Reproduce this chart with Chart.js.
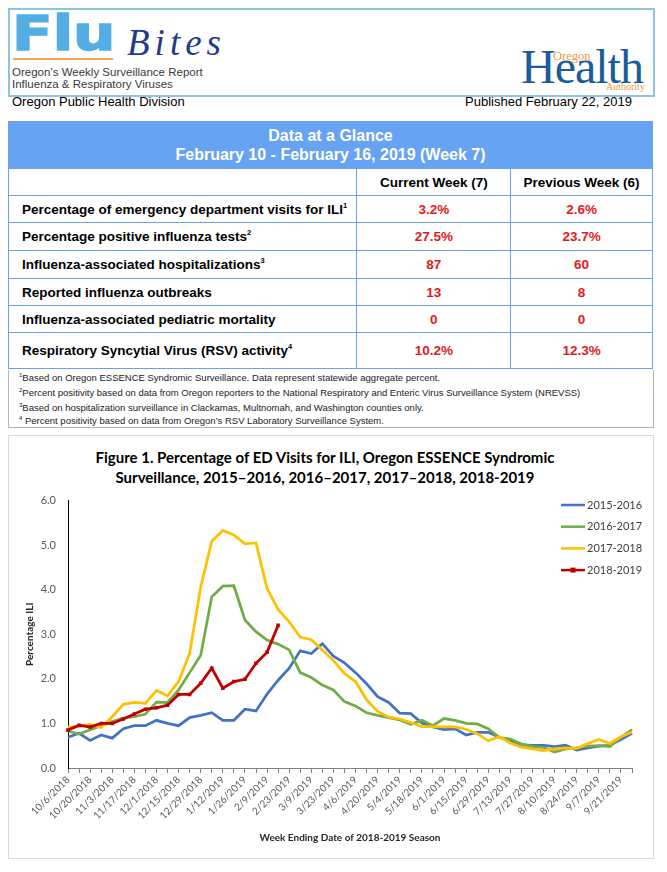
<!DOCTYPE html>
<html>
<head>
<meta charset="utf-8">
<title>Flu Bites - ED visits for ILI</title>
<script src="https://cdn.jsdelivr.net/npm/chart.js@4.4.1/dist/chart.umd.min.js"></script>
<style>
  body { margin:0; background:#fff; width:667px; height:872px; position:relative; overflow:hidden;
         font-family:"Liberation Sans", Arial, sans-serif; color:#000; }
  .abs { position:absolute; white-space:nowrap; }

  /* masthead */
  #masthead { position:absolute; left:8px; top:8px; width:643px; height:85px; border:2px solid #8cc4e2; }
  #flu { left:12px; top:9px; font:bold 48px/48px "DejaVu Sans", sans-serif; color:#55aee3;
         transform:scaleX(1.24); transform-origin:left top; -webkit-text-stroke:1.5px #55aee3; }
  #fluRule { left:13px; top:58px; width:100px; height:1.5px; background:#f3a55a; }
  #bites { left:127px; top:24px; font:italic 37px/37px "Liberation Serif", serif; color:#1f3d8c; letter-spacing:5px; }
  .sub { left:12px; font-size:11.5px; line-height:14px; color:#3a3a3a; }
  #health { left:521px; top:43px; font:48px/48px "Liberation Serif", serif; color:#1d5c9c; letter-spacing:-1px; }
  #ohaTop { left:553px; top:50px; font:12.5px/13px "Liberation Serif", serif; color:#f09a3e; }
  #ohaBottom { left:606px; top:81px; font:10px/11px "Liberation Serif", serif; color:#f09a3e; }
  .byline { top:95px; font-size:13px; line-height:14px; }

  /* data at a glance */
  #glance { position:absolute; left:8px; top:121px; width:645px; border-collapse:collapse;
            font-family:"Liberation Sans", Arial, sans-serif; font-weight:bold; }
  #glance td { border:1.5px solid #6d9ff0; padding:0; font-size:13.5px; }
  #glance td.band { background:#66a3f2; color:#fff; font-size:16px; line-height:19px; height:46px; text-align:center; }
  #glance td.lbl { padding-left:13px; text-align:left; }
  #glance td.head { text-align:center; }
  #glance td.val { color:#e31a1c; text-align:center; }
  #glance sup { font-size:7.5px; vertical-align:6px; line-height:0; }
  #notes { position:absolute; left:8px; top:370px; width:644px; height:57px; border:1px solid #b4b4b4; border-top:none;
           font-size:9.5px; line-height:11px; color:#222; }
  #notes div { position:absolute; left:10px; white-space:nowrap; }
  #notes sup { font-size:6px; vertical-align:4px; line-height:0; }

  /* figure */
  #figBox { position:absolute; left:8px; top:435px; width:644px; height:422px; border:1px solid #d9d9d9; }
  #figTitle { position:absolute; left:8px; top:447px; width:634px; text-align:center;
              font:bold 15px/20px Lato, "Open Sans", sans-serif; color:#000; }
  #chartWrap { position:absolute; left:9px; top:482px; width:640px; height:368px; }
</style>
</head>
<body>

<div id="masthead"></div>
<div class="abs" id="flu">Flu</div>
<div class="abs" id="fluRule"></div>
<div class="abs" id="bites">Bites</div>
<div class="abs sub" style="top:65px">Oregon’s Weekly Surveillance Report</div>
<div class="abs sub" style="top:77px">Influenza &amp; Respiratory Viruses</div>
<div class="abs" id="health">Health</div>
<div class="abs" id="ohaTop">Oregon</div>
<div class="abs" id="ohaBottom">Authority</div>
<div class="abs byline" style="left:12px">Oregon Public Health Division</div>
<div class="abs byline" style="right:35px">Published February 22, 2019</div>

<table id="glance">
  <colgroup><col style="width:349px"><col style="width:154px"><col style="width:142px"></colgroup>
  <tr><td class="band" colspan="3">Data at a Glance<br>February 10 - February 16, 2019 (Week 7)</td></tr>
  <tr style="height:27px"><td></td><td class="head">Current Week (7)</td><td class="head">Previous Week (6)</td></tr>
  <tr style="height:27px"><td class="lbl">Percentage of emergency department visits for ILI<sup>1</sup></td><td class="val">3.2%</td><td class="val">2.6%</td></tr>
  <tr style="height:28px"><td class="lbl">Percentage positive influenza tests<sup>2</sup></td><td class="val">27.5%</td><td class="val">23.7%</td></tr>
  <tr style="height:28px"><td class="lbl">Influenza-associated hospitalizations<sup>3</sup></td><td class="val">87</td><td class="val">60</td></tr>
  <tr style="height:27px"><td class="lbl">Reported influenza outbreaks</td><td class="val">13</td><td class="val">8</td></tr>
  <tr style="height:27px"><td class="lbl">Influenza-associated pediatric mortality</td><td class="val">0</td><td class="val">0</td></tr>
  <tr style="height:36px"><td class="lbl">Respiratory Syncytial Virus (RSV) activity<sup>4</sup></td><td class="val">10.2%</td><td class="val">12.3%</td></tr>
</table>
<div id="notes">
  <div style="top:2px"><sup>1</sup>Based on Oregon ESSENCE Syndromic Surveillance. Data represent statewide aggregate percent.</div>
  <div style="top:17px"><sup>2</sup>Percent positivity based on data from Oregon reporters to the National Respiratory and Enteric Virus Surveillance System (NREVSS)</div>
  <div style="top:32px"><sup>3</sup>Based on hospitalization surveillance in Clackamas, Multnomah, and Washington counties only.</div>
  <div style="top:45px"><sup>4</sup> Percent positivity based on data from Oregon’s RSV Laboratory Surveillance System.</div>
</div>

<div id="figBox"></div>
<div id="figTitle">Figure 1. Percentage of ED Visits for ILI, Oregon ESSENCE Syndromic<br>Surveillance, 2015–2016, 2016–2017, 2017–2018, 2018-2019</div>
<div id="chartWrap"><canvas id="iliChart"></canvas></div>

<script>
// week ending dates of the 2018-2019 season
const weekLabels = [
  "10/6/2018", "10/13/2018", "10/20/2018", "10/27/2018", "11/3/2018", "11/10/2018", "11/17/2018", "11/24/2018",
  "12/1/2018", "12/8/2018", "12/15/2018", "12/22/2018", "12/29/2018", "1/5/2019", "1/12/2019", "1/19/2019",
  "1/26/2019", "2/2/2019", "2/9/2019", "2/16/2019", "2/23/2019", "3/2/2019", "3/9/2019", "3/16/2019",
  "3/23/2019", "3/30/2019", "4/6/2019", "4/13/2019", "4/20/2019", "4/27/2019", "5/4/2019", "5/11/2019",
  "5/18/2019", "5/25/2019", "6/1/2019", "6/8/2019", "6/15/2019", "6/22/2019", "6/29/2019", "7/6/2019",
  "7/13/2019", "7/20/2019", "7/27/2019", "8/3/2019", "8/10/2019", "8/17/2019", "8/24/2019", "8/31/2019",
  "9/7/2019", "9/14/2019", "9/21/2019", "9/28/2019"
];

// percent of ED visits for ILI, per season
const ili2015 = [0.69, 0.78, 0.62, 0.74, 0.67, 0.88, 0.95, 0.95, 1.07, 1.00, 0.95, 1.13, 1.18,
  1.24, 1.07, 1.07, 1.32, 1.28, 1.66, 1.97, 2.24, 2.63, 2.57, 2.79, 2.51, 2.36, 2.14, 1.89, 1.60,
  1.47, 1.23, 1.22, 1.01, 0.92, 0.86, 0.88, 0.74, 0.80, 0.80, 0.69, 0.61, 0.52, 0.51, 0.51, 0.48,
  0.51, 0.40, 0.45, 0.49, 0.51, 0.64, 0.78];
const ili2016 = [0.83, 0.76, 0.86, 0.95, 1.04, 1.12, 1.15, 1.21, 1.48, 1.47, 1.75, 2.14, 2.53,
  3.84, 4.08, 4.09, 3.32, 3.06, 2.87, 2.78, 2.65, 2.14, 2.03, 1.86, 1.75, 1.49, 1.39, 1.24, 1.18,
  1.13, 1.08, 0.98, 1.07, 0.95, 1.11, 1.07, 1.00, 0.99, 0.88, 0.68, 0.65, 0.54, 0.48, 0.46, 0.36,
  0.43, 0.45, 0.49, 0.50, 0.48, 0.69, 0.86];
const ili2017 = [0.92, 0.93, 0.98, 0.91, 1.15, 1.43, 1.47, 1.45, 1.74, 1.62, 1.94, 2.57, 4.06,
  5.09, 5.33, 5.23, 5.03, 5.05, 4.03, 3.56, 3.28, 2.94, 2.88, 2.65, 2.41, 2.12, 1.94, 1.53, 1.27,
  1.14, 1.10, 1.02, 0.93, 0.93, 0.92, 0.92, 0.87, 0.77, 0.61, 0.70, 0.56, 0.47, 0.43, 0.39, 0.43,
  0.45, 0.44, 0.55, 0.64, 0.55, 0.70, 0.81];
const ili2018 = [0.85, 0.96, 0.92, 1.00, 1.00, 1.10, 1.21, 1.32, 1.35, 1.41, 1.65, 1.65, 1.90,
  2.24, 1.79, 1.94, 1.99, 2.35, 2.60, 3.20];

const seasonNames = ["2015-2016", "2016-2017", "2017-2018", "2018-2019"];
const seasonColors = ["#4472C4", "#70AD47", "#FFC000", "#C00000"];

// legend drawn inside the plot, top right, like the Excel original
const sideLegend = {
  id: "sideLegend",
  afterDraw(chart) {
    const ctx = chart.ctx;
    ctx.save();
    ctx.font = "11px Lato";
    ctx.textBaseline = "middle";
    chart.data.datasets.forEach((ds, i) => {
      const y = 23 + i * 21.7;
      ctx.strokeStyle = ds.borderColor;
      ctx.lineWidth = 2.5;
      ctx.beginPath();
      ctx.moveTo(552, y);
      ctx.lineTo(576, y);
      ctx.stroke();
      if (ds.pointRadius > 0) {
        ctx.fillStyle = ds.borderColor;
        ctx.fillRect(561.5, y - 2.5, 5, 5);
      }
      ctx.fillStyle = "#404040";
      ctx.fillText(ds.label, 578, y);
    });
    ctx.restore();
  }
};

const seriesValues = [ili2015, ili2016, ili2017, ili2018];

new Chart(document.getElementById("iliChart"), {
  type: "line",
  data: {
    labels: weekLabels,
    datasets: seriesValues.map((vals, i) => ({
      label: seasonNames[i],
      data: vals,
      borderColor: seasonColors[i],
      backgroundColor: seasonColors[i],
      borderWidth: 2.75,
      tension: 0,
      pointStyle: "rect",
      pointRadius: i === 3 ? 2.5 : 0,
      pointBorderWidth: 0,
      order: 3 - i
    }))
  },
  options: {
    responsive: true,
    maintainAspectRatio: false,
    animation: false,
    layout: { padding: { left: 11, right: 17, top: 2, bottom: 0 } },
    plugins: {
      legend: { display: false },
      tooltip: { enabled: false }
    },
    scales: {
      x: {
        grid: { display: true, drawOnChartArea: false, drawTicks: true, tickLength: 5, color: "#808080" },
        border: { color: "#808080", width: 1 },
        ticks: {
          autoSkip: false, maxRotation: 45, minRotation: 45, padding: 1,
          color: "#595959", font: { family: "Lato", size: 10 },
          callback: (v, i) => (i % 2 === 0 ? weekLabels[i] : "")
        },
        title: {
          display: true, text: "Week Ending Date of 2018-2019 Season", color: "#262626",
          font: { family: "Lato", size: 10, weight: "bold" }, padding: { top: 4, bottom: 6 }
        },
        afterFit: (s) => { s.height = 82; }
      },
      y: {
        min: 0, max: 6,
        grid: { display: false, drawTicks: false },
        border: { color: "#000", width: 1 },
        ticks: {
          stepSize: 1, padding: 12, color: "#595959", font: { family: "Lato", size: 11 },
          callback: (v) => Number(v).toFixed(1)
        },
        title: {
          display: true, text: "Percentage ILI", color: "#262626",
          font: { family: "Lato", size: 10, weight: "bold" }, padding: { top: 4, bottom: 4 }
        },
        afterFit: (s) => { s.width = 48; }
      }
    }
  },
  plugins: [sideLegend]
});
</script>
</body>
</html>
